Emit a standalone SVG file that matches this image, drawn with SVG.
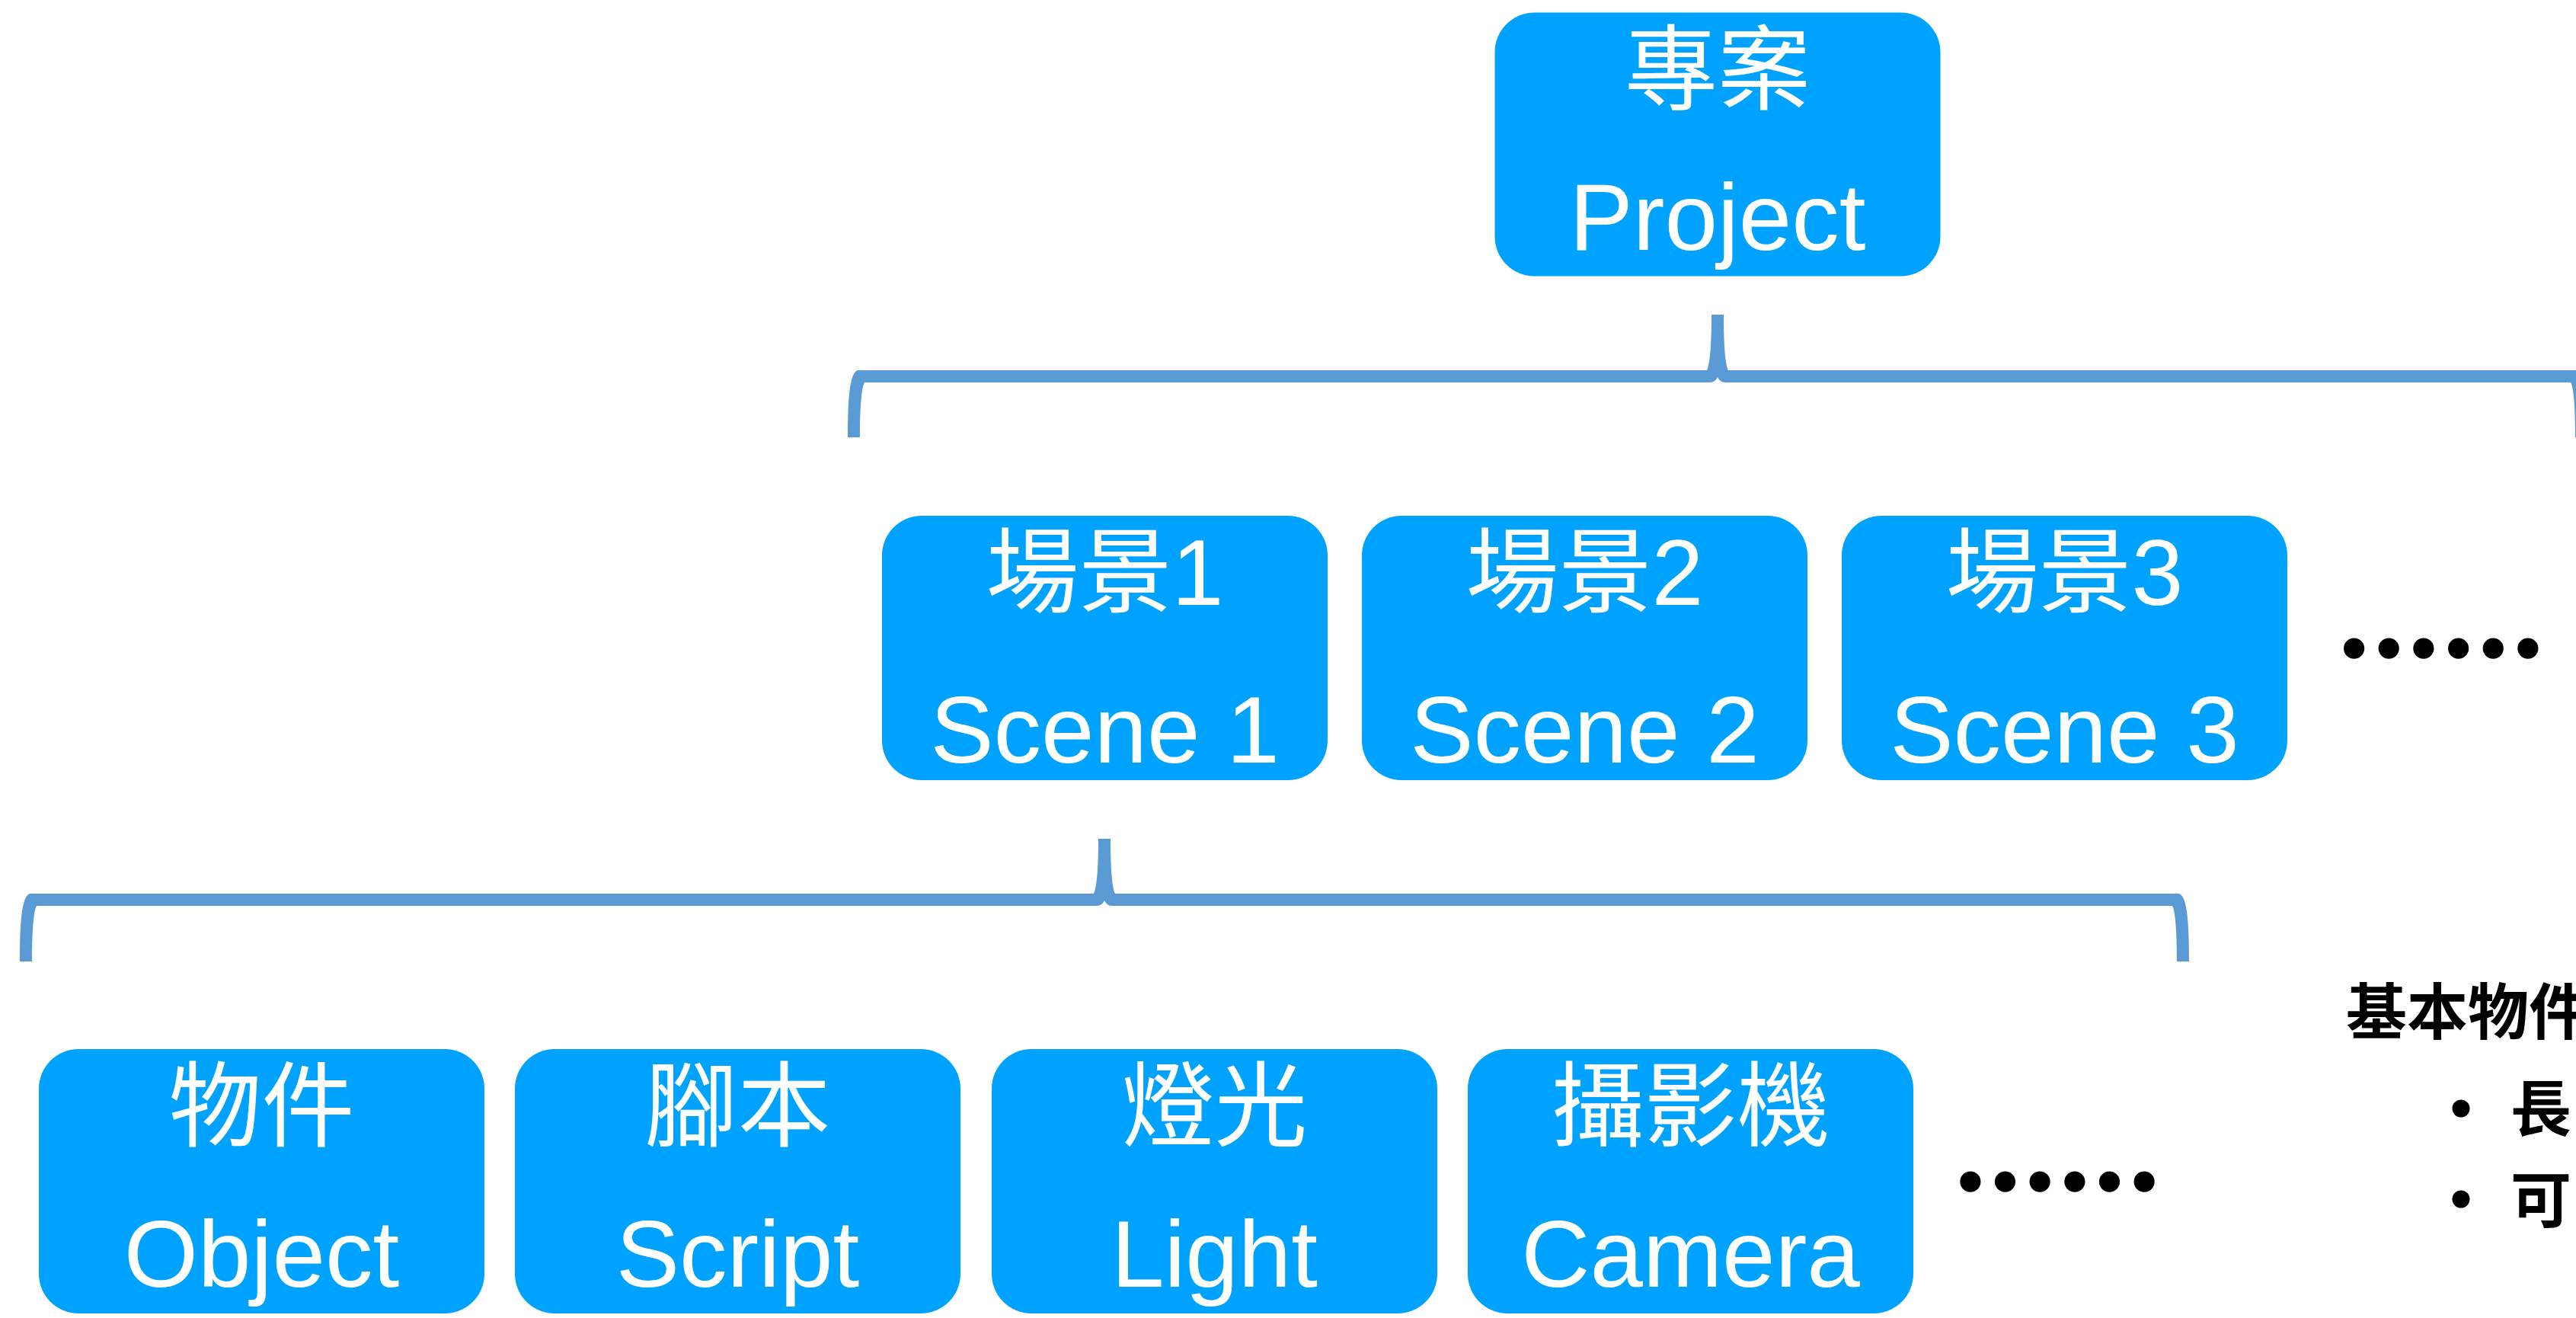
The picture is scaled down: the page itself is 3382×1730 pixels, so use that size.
<svg xmlns="http://www.w3.org/2000/svg" width="3382" height="1730" viewBox="0 0 3382 1730">
<style>
.node{fill:#00A2FF}
.brace{fill:#5B9BD5}
.zh{font-family:"Liberation Sans","Noto Sans CJK TC",sans-serif;font-size:122px;fill:#fff;text-anchor:middle}
.en{font-family:"Liberation Sans","Noto Sans CJK TC",sans-serif;font-size:125px;fill:#fff;text-anchor:middle}
.more{font-family:"Noto Sans CJK TC",sans-serif;font-size:137px;font-weight:bold;fill:#000;stroke:#000;stroke-width:5;stroke-linejoin:round;text-anchor:middle}
.note{font-family:"Noto Sans CJK TC",sans-serif;font-size:80px;font-weight:bold;fill:#000}
</style>
<rect width="3382" height="1730" fill="#fff"/>
<g id="connectors">
<path class="brace" d="M 1113 574 C 1113 526 1115 490 1126 486 L 2241 486 C 2245 478 2247 453 2247 413 L 2263 413 C 2263 453 2265 478 2269 486 L 3384 486 C 3395 490 3397 526 3397 574 L 3381 574 C 3381 536 3379 508 3375 502 L 2265 502 C 2260 502 2257 499 2255 495 C 2253 499 2250 502 2245 502 L 1135 502 C 1131 508 1129 536 1129 574 Z"/>
<path class="brace" d="M 26 1262 C 26 1214 28 1177 39 1173 L 1436 1173 C 1440 1165 1442 1140 1442 1101 L 1458 1101 C 1458 1140 1460 1165 1464 1173 L 2861 1173 C 2872 1177 2874 1214 2874 1262 L 2858 1262 C 2858 1224 2856 1195 2852 1189 L 1460 1189 C 1455 1189 1452 1186 1450 1182 C 1448 1186 1445 1189 1440 1189 L 48 1189 C 44 1195 42 1224 42 1262 Z"/>
</g>
<g id="project">
<rect class="node" x="1962.5" y="16.5" width="585" height="346" rx="52"/>
<text class="zh" x="2255" y="134">專案</text>
<text class="en" x="2255" y="328">Project</text>
</g>
<g id="scene1">
<rect class="node" x="1158" y="677" width="585" height="347" rx="52"/>
<text class="zh" x="1450.5" y="794">場景1</text>
<text class="en" x="1450.5" y="1001">Scene 1</text>
</g>
<g id="scene2">
<rect class="node" x="1788" y="677" width="585" height="347" rx="52"/>
<text class="zh" x="2080.5" y="794">場景2</text>
<text class="en" x="2080.5" y="1001">Scene 2</text>
</g>
<g id="scene3">
<rect class="node" x="2418" y="677" width="585" height="347" rx="52"/>
<text class="zh" x="2710.5" y="794">場景3</text>
<text class="en" x="2710.5" y="1001">Scene 3</text>
</g>
<g id="scene-more">
<text class="more" x="3204.7" y="904">……</text>
</g>
<g id="object">
<rect class="node" x="51" y="1377" width="585" height="347" rx="52"/>
<text class="zh" x="343.5" y="1495">物件</text>
<text class="en" x="343.5" y="1689">Object</text>
</g>
<g id="script">
<rect class="node" x="676" y="1377" width="585" height="347" rx="52"/>
<text class="zh" x="968.5" y="1495">腳本</text>
<text class="en" x="968.5" y="1689">Script</text>
</g>
<g id="light">
<rect class="node" x="1302" y="1377" width="585" height="347" rx="52"/>
<text class="zh" x="1594.5" y="1495">燈光</text>
<text class="en" x="1594.5" y="1689">Light</text>
</g>
<g id="camera">
<rect class="node" x="1927" y="1377" width="585" height="347" rx="52"/>
<text class="zh" x="2219.5" y="1495">攝影機</text>
<text class="en" x="2219.5" y="1689">Camera</text>
</g>
<g id="component-more">
<text class="more" x="2701" y="1604">……</text>
</g>
<g id="notes">
<text class="note" x="3080" y="1357">基本物件</text>
<circle cx="3231" cy="1455" r="11.5" fill="#000"/>
<text class="note" x="3296" y="1484">長</text>
<circle cx="3231" cy="1574" r="11.5" fill="#000"/>
<text class="note" x="3296" y="1604">可</text>
</g>
</svg>
